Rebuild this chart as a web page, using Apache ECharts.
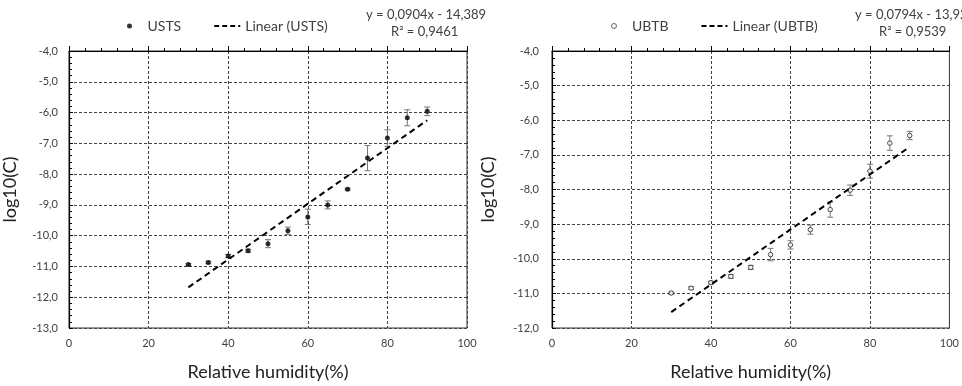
<!DOCTYPE html>
<html>
<head>
<meta charset="utf-8">
<script src="https://cdn.jsdelivr.net/npm/echarts@6/dist/echarts.min.js"></script>
<style>
  html, body { margin: 0; padding: 0; background: #fff; }
  #chart { width: 962px; height: 386px; }
</style>
</head>
<body>
<div id="chart"></div>
<script>
// humidity steps shared by both panels
const humidity = [30, 35, 40, 45, 50, 55, 60, 65, 70, 75, 80, 85, 90];

// USTS panel (left)
const ustsMean = [-10.94, -10.87, -10.66, -10.49, -10.26, -9.84, -9.39, -9.00, -8.49, -7.48, -6.83, -6.17, -5.96];
const ustsErr = [0.03, 0.04, 0.05, 0.05, 0.13, 0.12, 0.25, 0.13, 0.03, 0.41, 0.27, 0.26, 0.14];
const ustsTrendX = [30, 90];
const ustsTrendY = [-11.68, -6.25];

// UBTB panel (right)
const ubtbMean = [-10.99, -10.85, -10.69, -10.51, -10.25, -9.88, -9.60, -9.16, -8.58, -8.02, -7.47, -6.66, -6.44];
const ubtbErr = [0.03, 0.04, 0.04, 0.05, 0.06, 0.18, 0.12, 0.13, 0.22, 0.15, 0.20, 0.21, 0.12];
const ubtbTrendX = [30, 90];
const ubtbTrendY = [-11.54, -6.77];

const FONT = "Lato, 'Open Sans', sans-serif";
const TXT = "#404040";

const pts = (ys) => humidity.map((x, i) => [x, ys[i]]);
const bars = (ys, es) => humidity.map((x, i) => [x, ys[i] - es[i], ys[i] + es[i]]);
const trend = (xs, ys) => xs.map((x, i) => [x, ys[i]]);

// whisker drawn through the axis scale
function errorBar(params, api) {
  const x = api.value(0);
  const lo = api.coord([x, api.value(1)]);
  const hi = api.coord([x, api.value(2)]);
  const w = 3;
  const style = { stroke: "#777", lineWidth: 1 };
  return {
    type: "group",
    children: [
      { type: "line", shape: { x1: lo[0], y1: lo[1], x2: hi[0], y2: hi[1] }, style },
      { type: "line", shape: { x1: lo[0] - w, y1: lo[1], x2: lo[0] + w, y2: lo[1] }, style },
      { type: "line", shape: { x1: hi[0] - w, y1: hi[1], x2: hi[0] + w, y2: hi[1] }, style },
    ],
  };
}

function xAxes(gi) {
  return [
    {
      gridIndex: gi, type: "value", min: 0, max: 100, interval: 20,
      name: "Relative humidity(%)", nameLocation: "middle", nameGap: 35,
      nameTextStyle: { fontFamily: FONT, fontSize: 18, color: "#222" },
      axisLine: { show: false }, axisTick: { show: false },
      axisLabel: { fontFamily: FONT, fontSize: 11, color: TXT, margin: 10 },
      splitLine: { show: true, lineStyle: { color: "#444", type: [3, 2], width: 1 } },
    },
    {
      // Excel draws the category line where y is max (top edge)
      gridIndex: gi, type: "value", min: 0, max: 100, interval: 20, position: "top",
      axisLine: { show: true, lineStyle: { color: "#000", width: 1.2 } },
      axisTick: { show: true, length: 5, lineStyle: { color: "#000" } },
      minorTick: { show: true, splitNumber: 5, length: 3, lineStyle: { color: "#000" } },
      axisLabel: { show: false }, splitLine: { show: false },
    },
  ];
}

function yAxis(gi, min, gap, labelMargin) {
  return {
    gridIndex: gi, type: "value", min, max: -4, interval: 1,
    name: "log10(C)", nameLocation: "middle", nameGap: gap,
    nameTextStyle: { fontFamily: FONT, fontSize: 18, color: "#222" },
    axisLine: { show: true, lineStyle: { color: "#000", width: 1.2 } },
    axisTick: { show: true, inside: true, length: 4, lineStyle: { color: "#000" } },
    minorTick: { show: true, splitNumber: 5, length: 3, lineStyle: { color: "#000" } },
    axisLabel: {
      fontFamily: FONT, fontSize: 11, color: TXT, margin: labelMargin,
      formatter: (v) => v.toFixed(1).replace(".", ","),
    },
    splitLine: { show: true, lineStyle: { color: "#444", type: [3, 2], width: 1 } },
  };
}

function panel(gi, name, mean, err, tx, ty, hollow) {
  const xi = gi * 2;
  return [
    {
      name: `${name} error`, type: "custom", xAxisIndex: xi, yAxisIndex: gi,
      renderItem: errorBar, data: bars(mean, err), encode: { x: 0, y: [1, 2] }, z: 2,
    },
    {
      name, type: "scatter", xAxisIndex: xi, yAxisIndex: gi, symbol: "circle",
      symbolSize: hollow ? 4.5 : 5,
      color: "#000",
      itemStyle: hollow ? { color: "#fff", borderColor: "#222", borderWidth: 1 } : { color: "#000" },
      data: pts(mean), z: 3,
    },
    {
      name: `Linear (${name})`, type: "line", xAxisIndex: xi, yAxisIndex: gi,
      symbol: "none", silent: true, color: "#000",
      lineStyle: { color: "#000", width: 2, type: [6, 4] },
      data: trend(tx, ty), z: 4,
    },
  ];
}

function legend(left, name) {
  return {
    left, top: 14, itemWidth: 26, itemHeight: 5, itemGap: 32,
    textStyle: { fontFamily: FONT, fontSize: 14, color: TXT },
    data: [
      { name, icon: "circle", itemStyle: name === "UBTB" ? { color: "#fff", borderColor: "#444", borderWidth: 1 } : { color: "#000" } },
      { name: `Linear (${name})`, itemStyle: { opacity: 0 }, lineStyle: { color: "#000", width: 2, type: [5, 3] } },
    ],
    selectedMode: false,
  };
}

function eqText(left, top, text) {
  return {
    type: "text", left, top,
    style: { text, fontFamily: FONT, fontSize: 13, fill: TXT },
  };
}

const chart = echarts.init(document.getElementById("chart"));
chart.setOption({
  backgroundColor: "#fff",
  animation: false,
  grid: [
    { left: 68, top: 51, width: 399, height: 286, show: true, borderColor: "#333", borderWidth: 1, backgroundColor: "transparent" },
    { left: 552, top: 51, width: 399, height: 285, show: true, borderColor: "#333", borderWidth: 1, backgroundColor: "transparent" },
  ],
  legend: [legend(122, "USTS"), legend(606, "UBTB")],
  xAxis: [...xAxes(0), ...xAxes(1)],
  yAxis: [yAxis(0, -13, 50, 11), yAxis(1, -12, 55, 13)],
  graphic: [
    eqText(366, 8, "y = 0,0904x - 14,389"),
    eqText(391, 25, "R² = 0,9461"),
    eqText(855, 8, "y = 0,0794x - 13,921"),
    eqText(879, 25, "R² = 0,9539"),
  ],
  series: [
    ...panel(0, "USTS", ustsMean, ustsErr, ustsTrendX, ustsTrendY, false),
    ...panel(1, "UBTB", ubtbMean, ubtbErr, ubtbTrendX, ubtbTrendY, true),
  ],
});
</script>
</body>
</html>
